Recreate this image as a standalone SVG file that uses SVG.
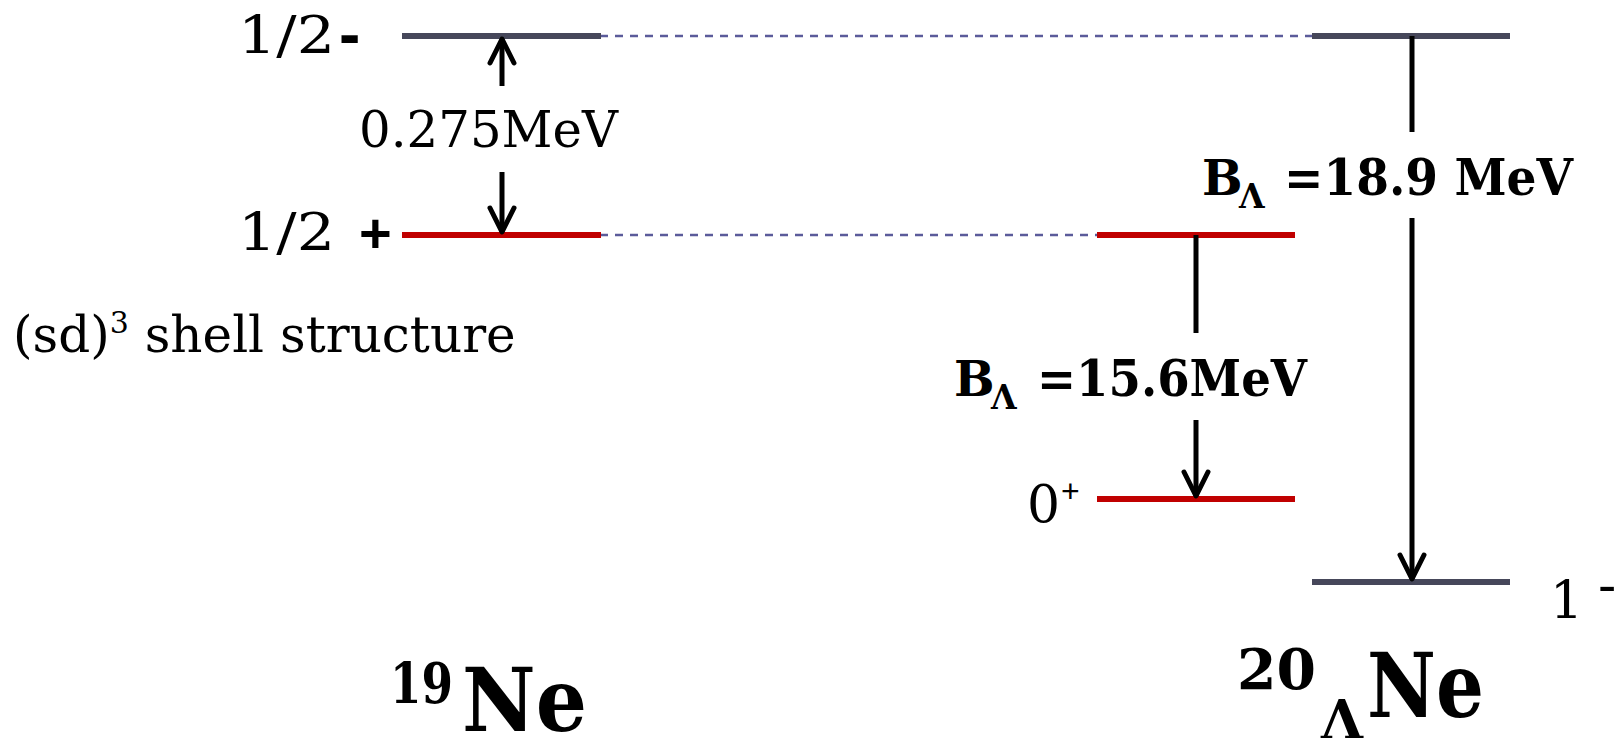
<svg xmlns="http://www.w3.org/2000/svg" width="1615" height="738" viewBox="0 0 1615 738">
<style>
.reg{font-family:"DejaVu Serif","Liberation Serif",serif;fill:#000}
.bold{font-family:"DejaVu Serif","Liberation Serif",serif;font-weight:bold;fill:#000}
.sans{font-family:"Liberation Sans","DejaVu Sans",sans-serif;font-weight:bold;fill:#000}
.lvlg{stroke:#46475a;stroke-width:6;fill:none}
.lvlr{stroke:#c00000;stroke-width:6;fill:none}
.dash{stroke:#5b5b9a;stroke-width:2.5;stroke-dasharray:8 7;fill:none}
.arr{stroke:#000;stroke-width:5;fill:none}
</style>
<defs>
<marker id="ah" markerUnits="userSpaceOnUse" orient="auto" overflow="visible" refX="0" refY="0" markerWidth="1" markerHeight="1">
<path d="M-24,-12 L0,0 L-24,12" fill="none" stroke="#000" stroke-width="5" stroke-linecap="round" stroke-linejoin="round"/>
</marker>
</defs>
<rect width="1615" height="738" fill="#fff"/>
<g id="guides">
<line class="dash" x1="585" y1="36" x2="1320" y2="36"/>
<line class="dash" x1="585" y1="235" x2="1105" y2="235"/>
</g>
<g id="ne19-half-minus">
<line class="lvlg" x1="402" y1="36" x2="601" y2="36"/>
<text class="reg" x="238" y="53" font-size="52" textLength="97" lengthAdjust="spacingAndGlyphs">1/2</text>
<text class="sans" x="339" y="56" font-size="64">-</text>
</g>
<g id="ne19-half-plus">
<line class="lvlr" x1="402" y1="235" x2="601" y2="235"/>
<text class="reg" x="238" y="250" font-size="52" textLength="97" lengthAdjust="spacingAndGlyphs">1/2</text>
<text class="sans" x="359" y="252" font-size="56">+</text>
</g>
<g id="ne19-label">
<text class="reg" x="13" y="352" font-size="50">(sd)<tspan font-size="30" dy="-19">3</tspan><tspan dy="19"> shell structure</tspan></text>
<text class="bold" x="390" y="703" font-size="56" textLength="63" lengthAdjust="spacingAndGlyphs">19</text>
<text class="bold" x="462" y="731" font-size="88" textLength="125" lengthAdjust="spacingAndGlyphs">Ne</text>
</g>
<g id="hyp-top">
<line class="lvlg" x1="1312" y1="36" x2="1510" y2="36"/>
</g>
<g id="hyp-mid">
<line class="lvlr" x1="1097" y1="235" x2="1295" y2="235"/>
</g>
<g id="hyp-0plus">
<line class="lvlr" x1="1097" y1="499" x2="1295" y2="499"/>
<text class="reg" x="1027" y="522" font-size="52">0</text>
<text x="1061" y="502" font-size="32" font-family="Liberation Sans, DejaVu Sans, sans-serif" fill="#000">+</text>
</g>
<g id="hyp-1minus">
<line class="lvlg" x1="1312" y1="582" x2="1510" y2="582"/>
<text class="reg" x="1550" y="618" font-size="52">1</text>
<text class="reg" x="1598" y="604" font-size="54">-</text>
</g>
<g id="hyp-label">
<text class="bold" x="1237" y="689" font-size="56" textLength="79" lengthAdjust="spacingAndGlyphs">20</text>
<text class="bold" x="1321" y="739" font-size="54" textLength="42" lengthAdjust="spacingAndGlyphs">Λ</text>
<text class="bold" x="1367" y="717" font-size="89" textLength="117" lengthAdjust="spacingAndGlyphs">Ne</text>
</g>
<g id="connectors">
<line class="arr" x1="502" y1="86" x2="502" y2="39" marker-end="url(#ah)"/>
<line class="arr" x1="502" y1="172" x2="502" y2="232" marker-end="url(#ah)"/>
<line class="arr" x1="1412" y1="36" x2="1412" y2="132"/>
<line class="arr" x1="1412" y1="218" x2="1412" y2="579" marker-end="url(#ah)"/>
<line class="arr" x1="1196" y1="235" x2="1196" y2="333"/>
<line class="arr" x1="1196" y1="420" x2="1196" y2="496" marker-end="url(#ah)"/>
</g>
<g id="labels">
<text class="reg" x="359" y="147" font-size="51" textLength="259" lengthAdjust="spacingAndGlyphs">0.275MeV</text>
<text class="bold" x="1202" y="195" font-size="48">B<tspan x="1239" y="208" font-size="33">Λ</tspan></text>
<text class="bold" x="1284" y="195" font-size="51" textLength="289" lengthAdjust="spacingAndGlyphs">=18.9 MeV</text>
<text class="bold" x="954" y="396" font-size="48">B<tspan x="991" y="409" font-size="33">Λ</tspan></text>
<text class="bold" x="1037" y="396" font-size="51" textLength="270" lengthAdjust="spacingAndGlyphs">=15.6MeV</text>
</g>
</svg>
